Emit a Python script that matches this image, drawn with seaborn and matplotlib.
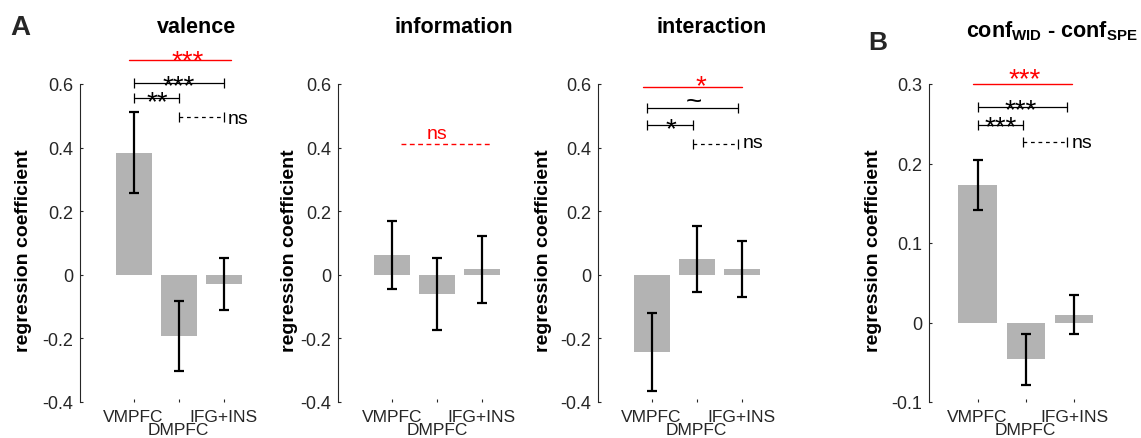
import numpy as np
import pandas as pd
import seaborn as sns
import matplotlib.pyplot as plt

# regions on the x axis
regions = ['VMPFC', 'DMPFC', 'IFG+INS']
tick_labels = ['VMPFC', '\nDMPFC', 'IFG+INS']

# mean regression coefficient and SEM per panel
valence_mean = [0.384, -0.192, -0.029]
valence_sem = [0.128, 0.110, 0.082]
information_mean = [0.063, -0.061, 0.017]
information_sem = [0.107, 0.113, 0.105]
interaction_mean = [-0.243, 0.049, 0.018]
interaction_sem = [0.122, 0.104, 0.087]
conf_mean = [0.173, -0.046, 0.010]
conf_sem = [0.032, 0.032, 0.025]

# omnibus test (red): x0, x1, y, label, label x, label y, dashed
valence_red = (-0.09, 2.16, 0.676, '***', 1.2, 0.700, False)
information_red = (0.2, 2.18, 0.411, 'ns', 1.0, 0.447, True)
interaction_red = (-0.18, 2.02, 0.592, '*', 1.09, 0.623, False)
conf_red = (-0.1, 1.95, 0.300, '***', 0.98, 0.317, False)

# pairwise tests: x0, x1, y, label, label x, label y, dashed
valence_pairs = [(0, 2, 0.604, '***', 1.0, 0.623, False),
                 (0, 1, 0.556, '**', 0.53, 0.572, False),
                 (1, 2, 0.497, 'ns', None, 0.494, True)]
information_pairs = []
interaction_pairs = [(-0.09, 1.93, 0.523, '~', 0.93, 0.552, False),
                     (-0.09, 0.93, 0.472, '*', 0.42, 0.486, False),
                     (0.93, 1.93, 0.411, 'ns', None, 0.417, True)]
conf_pairs = [(0, 1.86, 0.2714, '***', 0.90, 0.279, False),
              (0, 0.94, 0.2487, '***', 0.47, 0.257, False),
              (0.94, 1.86, 0.2266, 'ns', None, 0.227, True)]

titles = ['valence', 'information', 'interaction',
          r'conf$_{\mathbf{WID}}$ - conf$_{\mathbf{SPE}}$']

sns.set_theme(style='white')
plt.rcParams['font.family'] = ['Liberation Sans', 'DejaVu Sans']
plt.rcParams['mathtext.fontset'] = 'custom'
plt.rcParams['mathtext.bf'] = 'Liberation Sans:bold'
plt.rcParams['mathtext.rm'] = 'Liberation Sans'
plt.rcParams['axes.unicode_minus'] = False

W, H = 1141, 439
fig = plt.figure(figsize=(W / 100, H / 100), dpi=100)

ink = '#262626'
bar_gray = '#b3b3b3'

# glyph centre above baseline (in em) for placing labels
glyph_mid = {'*': 0.58, '**': 0.58, '***': 0.58, 'ns': 0.26, '~': 0.36}


def put_label(ax, x, y, text, color, ha='center', dx=0):
    fs = 14 if text == 'ns' else 20
    ax.annotate(text, xy=(x, y), xytext=(dx, -glyph_mid[text] * fs),
                textcoords='offset points', ha=ha, va='baseline',
                fontsize=fs, color=color, annotation_clip=False)


def draw_panel(left_px, width_px, xlim, ylim, yticks, means, sems, red, pairs,
               title, title_x, title_y, ylab_x):
    ax = fig.add_axes([left_px / W, 1 - 403 / H, width_px / W, 318 / H])
    ax.set_facecolor('none')
    df = pd.DataFrame({'region': regions, 'coef': means})
    sns.barplot(data=df, x='region', y='coef', color=bar_gray, saturation=1,
                width=0.8, errorbar=None, linewidth=0, ax=ax)
    ax.errorbar(range(len(regions)), means, yerr=sems, fmt='none', ecolor='black',
                elinewidth=1.6, capsize=3.5, capthick=1.6, zorder=5)

    # omnibus line
    x0, x1, y, lab, lx, ly, dashed = red
    ax.plot([x0, x1], [y, y], color='red', lw=1.0,
            ls=(0, (3.5, 2.5)) if dashed else '-', clip_on=False)
    put_label(ax, lx, ly, lab, 'red')

    # pairwise brackets
    for x0, x1, y, lab, lx, ly, dashed in pairs:
        ax.plot([x0, x1], [y, y], color='black', lw=0.9,
                ls=(0, (3, 3)) if dashed else '-', clip_on=False)
        ax.plot([x0, x1], [y, y], ls='none', marker='|', ms=6.5, mew=0.9,
                color='black', clip_on=False)
        if lab == 'ns':
            put_label(ax, x1, ly, lab, 'black', ha='left', dx=3)
        else:
            put_label(ax, lx, ly, lab, 'black')

    ax.set_xlim(*xlim)
    ax.set_ylim(*ylim)
    ax.set_yticks(yticks)
    ax.set_yticklabels(['0' if abs(v) < 1e-9 else f'{v:.1f}' for v in yticks])
    ax.set_xticks(range(len(regions)))
    ax.set_xticklabels(tick_labels, linespacing=0.85)
    ax.set_xlabel('')
    ax.set_ylabel('regression coefficient', fontsize=14, fontweight='bold',
                  color='black')
    ax.yaxis.set_label_coords(ylab_x, 0.48)
    for s in ['top', 'right', 'bottom']:
        ax.spines[s].set_visible(False)
    ax.spines['left'].set_color(ink)
    ax.spines['left'].set_linewidth(0.8)
    ax.tick_params(axis='y', direction='in', length=2.5, width=0.8, color=ink,
                   labelcolor=ink, labelsize=13, pad=5, left=True)
    ax.tick_params(axis='x', direction='in', length=2.2, width=0.8, color=ink,
                   labelcolor=ink, labelsize=12.5, pad=5, bottom=True)
    fig.text(title_x / W, 1 - title_y / H, title, ha='center', va='baseline',
             fontsize=15.5, fontweight='bold', color='black')
    return ax


yt_a = np.round(np.arange(-0.4, 0.61, 0.2), 1)
yt_b = np.round(np.arange(-0.1, 0.31, 0.1), 1)

draw_panel(80, 197.5, (-1.19, 3.2), (-0.4, 0.6), yt_a, valence_mean, valence_sem,
           valence_red, valence_pairs, titles[0], 197, 33, -0.243)
draw_panel(338.3, 197.5, (-1.19, 3.2), (-0.4, 0.6), yt_a, information_mean,
           information_sem, information_red, information_pairs, titles[1], 453.5, 33,
           -0.203)
draw_panel(598, 197.5, (-1.19, 3.2), (-0.4, 0.6), yt_a, interaction_mean,
           interaction_sem, interaction_red, interaction_pairs, titles[2], 711.5, 33,
           -0.233)
draw_panel(929.3, 193, (-1.0, 3.0), (-0.1, 0.3), yt_b, conf_mean, conf_sem,
           conf_red, conf_pairs, titles[3], 1052, 37, -0.244)

fig.text(10 / W, 1 - 35 / H, 'A', fontsize=20, fontweight='bold', ha='left',
         va='baseline')
fig.text(868 / W, 1 - 50 / H, 'B', fontsize=19, fontweight='bold', ha='left',
         va='baseline')

fig.savefig('out.png', dpi=100)
